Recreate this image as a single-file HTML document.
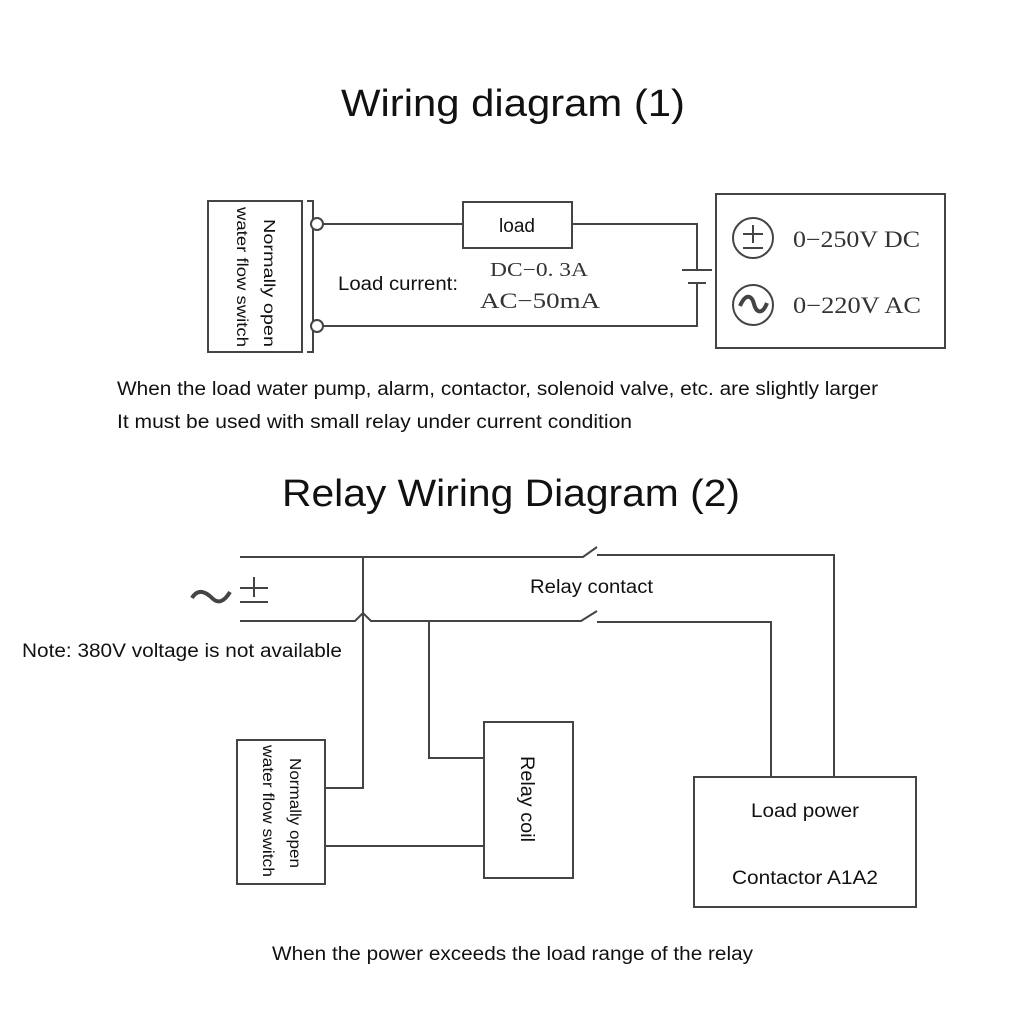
<!DOCTYPE html>
<html><head><meta charset="utf-8"><style>
html,body{margin:0;padding:0;background:#fff;}
svg{display:block;}
text{font-family:"Liberation Sans","DejaVu Sans",sans-serif;fill:#111;}
.s{font-family:"Liberation Serif",serif;fill:#333;}
</style></head><body>
<svg width="1024" height="1024" viewBox="0 0 1024 1024" xmlns="http://www.w3.org/2000/svg">
<g fill="none" stroke="#444" stroke-width="2">
<!-- Diagram 1 -->
<rect x="208" y="201" width="94" height="151"/>
<path d="M307 201 H313 V352 H307"/>
<circle cx="317" cy="224" r="6" fill="#fff"/>
<circle cx="317" cy="326" r="6" fill="#fff"/>
<path d="M323 224 H463"/>
<rect x="463" y="202" width="109" height="46"/>
<path d="M572 224 H697 V270"/>
<path d="M682 270 H712" stroke-width="2"/>
<path d="M688 283 H706"/>
<path d="M697 283 V326 H323"/>
<rect x="716" y="194" width="229" height="154"/>
<circle cx="753" cy="238" r="20"/>
<circle cx="753" cy="305" r="20"/>
<path d="M743 234 H763 M753 225 V243 M743 248 H763"/>
<path d="M740 306 C746 292 752 296 754 304 C756 312 762 316 767 303" stroke-width="4"/>
<!-- Diagram 2 -->
<path d="M240 557 H583 L597 547"/>
<path d="M597 555 H834 V777"/>
<path d="M240 621 H355 L363 613 L371 621 H581 L597 611"/>
<path d="M597 622 H771 V777"/>
<path d="M363 557 V788 H326"/>
<path d="M429 621 V758 H484"/>
<path d="M326 846 H484"/>
<rect x="237" y="740" width="88" height="144"/>
<rect x="484" y="722" width="89" height="156"/>
<rect x="694" y="777" width="222" height="130"/>
<path d="M240 588 H268 M254 577 V597 M240 602 H268"/>
<path d="M192 598 C198 588 206 592 212 598 C218 604 224 602 230 592" stroke-width="4"/>
</g>
<text x="513" y="116" font-size="38" text-anchor="middle" textLength="344" lengthAdjust="spacingAndGlyphs">Wiring diagram (1)</text>
<text x="517" y="232" font-size="19" text-anchor="middle">load</text>
<text x="338" y="290" font-size="19" textLength="120" lengthAdjust="spacingAndGlyphs">Load current:</text>
<text class="s" x="490" y="276" font-size="20" textLength="98" lengthAdjust="spacingAndGlyphs">DC−0. 3A</text>
<text class="s" x="480" y="308" font-size="22" textLength="120" lengthAdjust="spacingAndGlyphs">AC−50mA</text>
<text class="s" x="793" y="247" font-size="23" textLength="127" lengthAdjust="spacingAndGlyphs">0−250V DC</text>
<text class="s" x="793" y="313" font-size="23" textLength="128" lengthAdjust="spacingAndGlyphs">0−220V AC</text>
<text transform="translate(264,219) rotate(90)" font-size="16" textLength="128" lengthAdjust="spacingAndGlyphs">Normally open</text>
<text transform="translate(237,207) rotate(90)" font-size="16" textLength="140" lengthAdjust="spacingAndGlyphs">water flow switch</text>
<text x="117" y="395" font-size="19" textLength="761" lengthAdjust="spacingAndGlyphs">When the load water pump, alarm, contactor, solenoid valve, etc. are slightly larger</text>
<text x="117" y="428" font-size="19" textLength="515" lengthAdjust="spacingAndGlyphs">It must be used with small relay under current condition</text>
<text x="511" y="506" font-size="38" text-anchor="middle" textLength="458" lengthAdjust="spacingAndGlyphs">Relay Wiring Diagram (2)</text>
<text x="530" y="593" font-size="19" textLength="123" lengthAdjust="spacingAndGlyphs">Relay contact</text>
<text x="22" y="657" font-size="19" textLength="320" lengthAdjust="spacingAndGlyphs">Note: 380V voltage is not available</text>
<text transform="translate(290,758) rotate(90)" font-size="16" textLength="110" lengthAdjust="spacingAndGlyphs">Normally open</text>
<text transform="translate(263,745) rotate(90)" font-size="16" textLength="132" lengthAdjust="spacingAndGlyphs">water flow switch</text>
<text transform="translate(521,756) rotate(90)" font-size="19" textLength="86" lengthAdjust="spacingAndGlyphs">Relay coil</text>
<text x="805" y="817" font-size="19" text-anchor="middle" textLength="108" lengthAdjust="spacingAndGlyphs">Load power</text>
<text x="805" y="884" font-size="19" text-anchor="middle" textLength="146" lengthAdjust="spacingAndGlyphs">Contactor A1A2</text>
<text x="272" y="960" font-size="19" textLength="481" lengthAdjust="spacingAndGlyphs">When the power exceeds the load range of the relay</text>
</svg>
</body></html>
